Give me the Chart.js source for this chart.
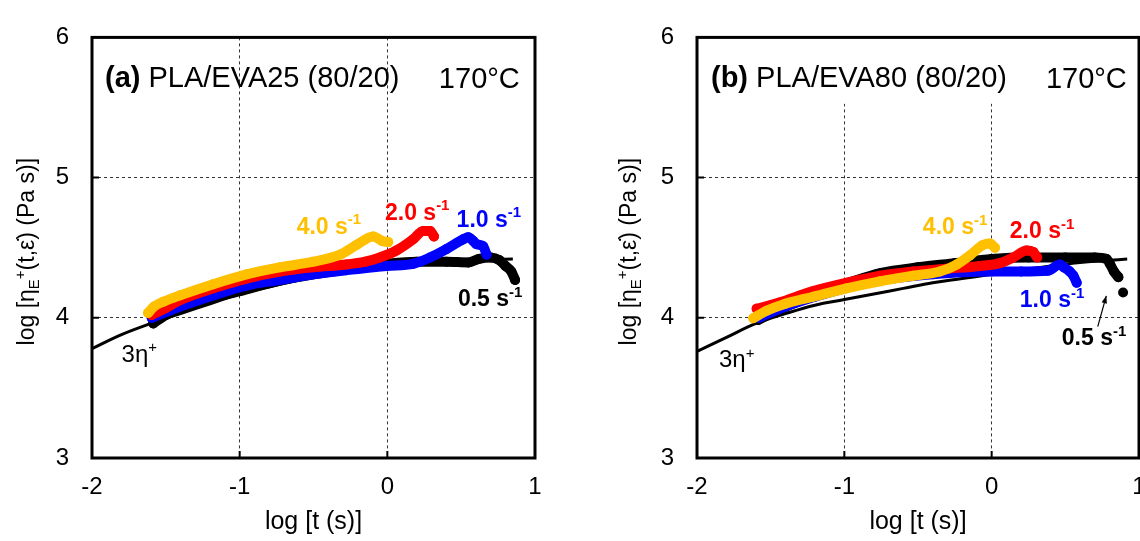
<!DOCTYPE html>
<html>
<head>
<meta charset="utf-8">
<script src="https://cdn.jsdelivr.net/npm/chart.js@4.4.0/dist/chart.umd.min.js"></script>
<style>
  html, body { margin: 0; padding: 0; background: #fff; }
  body { width: 1140px; height: 541px; overflow: hidden; position: relative; }
  canvas { position: absolute; top: 0; }
  #panelA { left: 0; }
  #panelB { left: 570px; }
</style>
</head>
<body>
<canvas id="panelA" width="570" height="541"></canvas>
<canvas id="panelB" width="620" height="541"></canvas>
<script>
const FONT = '"Liberation Sans", Arial, sans-serif';

const ORANGE = '#FFC000';
const RED = '#FF0000';
const BLUE = '#0000FF';
const BLACK = '#000000';

// axis ticks: log t and log eta
const xTicks = [-2, -1, 0, 1];
const yTicks = [3, 4, 5, 6];

// (a) PLA/EVA25 (80/20) -- [log t, log eta_E+]
const a3eta = [[-2, 3.78], [-1.8, 3.88], [-1.6, 3.96], [-1.4, 4.03], [-1.2, 4.10], [-1.0, 4.17],
  [-0.8, 4.22], [-0.6, 4.27], [-0.4, 4.31], [-0.2, 4.345], [0, 4.37], [0.2, 4.39], [0.4, 4.40],
  [0.6, 4.41], [0.85, 4.42]];
const a05 = [[-1.585, 3.96], [-1.5, 4.02], [-1.3, 4.11], [-1.0, 4.19], [-0.75, 4.26], [-0.5, 4.31],
  [-0.25, 4.35], [0, 4.385], [0.2, 4.40], [0.4, 4.40], [0.55, 4.395], [0.62, 4.42], [0.7, 4.43],
  [0.76, 4.41], [0.8, 4.37], [0.84, 4.33], [0.865, 4.27]];
const a10 = [[-1.596, 4.0], [-1.5, 4.04], [-1.404, 4.08], [-1.179, 4.16], [-0.953, 4.23], [-0.727, 4.27],
  [-0.502, 4.31], [-0.276, 4.34], [-0.005, 4.37], [0.175, 4.385], [0.289, 4.43], [0.40, 4.49],
  [0.514, 4.56], [0.548, 4.575], [0.58, 4.55], [0.604, 4.525], [0.649, 4.51], [0.672, 4.45]];
const a20 = [[-1.596, 4.02], [-1.5, 4.07], [-1.404, 4.125], [-1.179, 4.21], [-0.953, 4.28], [-0.727, 4.33],
  [-0.502, 4.36], [-0.276, 4.38], [-0.15, 4.40], [-0.051, 4.43], [0.062, 4.48], [0.175, 4.56],
  [0.243, 4.62], [0.289, 4.62], [0.316, 4.58]];
const a40 = [[-1.62, 4.035], [-1.58, 4.08], [-1.517, 4.115], [-1.404, 4.16], [-1.179, 4.24], [-0.953, 4.31],
  [-0.727, 4.36], [-0.502, 4.40], [-0.321, 4.45], [-0.208, 4.52], [-0.096, 4.58], [-0.039, 4.55],
  [0.006, 4.54]];

// (b) PLA/EVA80 (80/20)
const b3eta = [[-2, 3.76], [-1.8, 3.86], [-1.6, 3.96], [-1.4, 4.03], [-1.2, 4.09], [-1.0, 4.13],
  [-0.8, 4.17], [-0.6, 4.21], [-0.4, 4.25], [-0.2, 4.28], [0, 4.31], [0.2, 4.34], [0.4, 4.37],
  [0.6, 4.395], [0.8, 4.41], [0.92, 4.42]];
const b05 = [[-1.584, 3.985], [-1.5, 4.03], [-1.35, 4.10], [-1.2, 4.17], [-1.0, 4.24], [-0.75, 4.32],
  [-0.5, 4.36], [-0.25, 4.39], [0, 4.42], [0.25, 4.43], [0.5, 4.43], [0.7, 4.43], [0.78, 4.42],
  [0.80, 4.39], [0.83, 4.33], [0.86, 4.29], [0.875, null], [0.892, 4.18]];
const b10 = [[-1.58, 4.0], [-1.4, 4.08], [-1.2, 4.15], [-1.0, 4.21], [-0.8, 4.26], [-0.6, 4.29],
  [-0.4, 4.31], [-0.2, 4.325], [0, 4.33], [0.2, 4.33], [0.38, 4.335], [0.463, 4.38], [0.49, 4.36],
  [0.53, 4.33], [0.555, 4.30], [0.577, 4.25]];
const b20 = [[-1.595, 4.065], [-1.5, 4.09], [-1.437, 4.11], [-1.211, 4.19], [-0.984, 4.25], [-0.758, 4.30],
  [-0.532, 4.33], [-0.306, 4.35], [-0.08, 4.37], [0.056, 4.39], [0.146, 4.43], [0.237, 4.48],
  [0.282, 4.47], [0.309, 4.43]];
const b40 = [[-1.618, 3.997], [-1.527, 4.05], [-1.4, 4.10], [-1.211, 4.15], [-0.984, 4.21], [-0.758, 4.26],
  [-0.532, 4.30], [-0.351, 4.33], [-0.238, 4.38], [-0.148, 4.445], [-0.058, 4.52], [-0.012, 4.53],
  [0.022, 4.50]];

const yTitleParts = [['log [\u03b7', ''], ['E', 'sub'], ['+', 'sup'], ['(t,\u03b5\u0307) (Pa s)]', '']];

// text helpers: parts are [text, style], style '' | 'b' | 'sup' | 'sub' | 'bsup'
function partFont(style, size) {
  const small = style.includes('sup') || style.includes('sub');
  const fs = small ? Math.round(size * 0.64) : size;
  return (style.startsWith('b') ? 'bold ' : '') + fs + 'px ' + FONT;
}
function partShift(style, size) {
  if (style.includes('sup')) return -size * 0.4;
  if (style.includes('sub')) return size * 0.22;
  return 0;
}
function partsWidth(ctx, parts, size) {
  let w = 0;
  for (const [t, st] of parts) {
    ctx.font = partFont(st, size);
    w += ctx.measureText(t).width;
  }
  return w;
}
function drawParts(ctx, x, y, parts, size) {
  let cx = x;
  for (const [t, st] of parts) {
    ctx.font = partFont(st, size);
    ctx.fillText(t, cx, y + partShift(st, size));
    cx += ctx.measureText(t).width;
  }
}

// frame, inward ticks, annotations and the rotated y title
const panelDecor = {
  id: 'panelDecor',
  beforeDatasetsDraw(chart, args, opts) {
    if (opts.clearTop == null) return;
    const { ctx, chartArea: ca, scales: { y } } = chart;
    ctx.save();
    ctx.fillStyle = '#fff';
    ctx.fillRect(ca.left, ca.top, ca.right - ca.left, y.getPixelForValue(opts.clearTop) - ca.top);
    ctx.restore();
  },
  afterDraw(chart, args, opts) {
    const { ctx, chartArea: ca, scales: { x, y } } = chart;
    ctx.save();
    ctx.strokeStyle = '#000';
    ctx.lineWidth = 3;
    ctx.strokeRect(ca.left, ca.top, ca.right - ca.left, ca.bottom - ca.top);

    ctx.lineWidth = 2;
    ctx.beginPath();
    xTicks.slice(1, -1).forEach(v => {
      const px = x.getPixelForValue(v);
      ctx.moveTo(px, ca.bottom);
      ctx.lineTo(px, ca.bottom - 7);
    });
    yTicks.slice(1, -1).forEach(v => {
      const py = y.getPixelForValue(v);
      ctx.moveTo(ca.left, py);
      ctx.lineTo(ca.left + 7, py);
    });
    ctx.stroke();

    ctx.textAlign = 'left';
    ctx.textBaseline = 'alphabetic';
    for (const n of opts.notes) {
      ctx.fillStyle = n.color;
      drawParts(ctx, x.getPixelForValue(n.x), y.getPixelForValue(n.y) + n.size * 0.36, n.parts, n.size);
    }

    if (opts.arrow) {
      const a = opts.arrow;
      const x0 = x.getPixelForValue(a[0]), y0 = y.getPixelForValue(a[1]);
      const x1 = x.getPixelForValue(a[2]), y1 = y.getPixelForValue(a[3]);
      const ang = Math.atan2(y1 - y0, x1 - x0);
      ctx.strokeStyle = '#000';
      ctx.fillStyle = '#000';
      ctx.lineWidth = 1.2;
      ctx.beginPath();
      ctx.moveTo(x0, y0);
      ctx.lineTo(x1, y1);
      ctx.stroke();
      ctx.beginPath();
      ctx.moveTo(x1, y1);
      ctx.lineTo(x1 - 8 * Math.cos(ang - 0.35), y1 - 8 * Math.sin(ang - 0.35));
      ctx.lineTo(x1 - 8 * Math.cos(ang + 0.35), y1 - 8 * Math.sin(ang + 0.35));
      ctx.closePath();
      ctx.fill();
    }

    ctx.fillStyle = '#000';
    ctx.translate(opts.yTitleX, (ca.top + ca.bottom) / 2 + 4);
    ctx.rotate(-Math.PI / 2);
    const w = partsWidth(ctx, yTitleParts, 23);
    drawParts(ctx, -w / 2, 0, yTitleParts, 23);
    ctx.restore();
  }
};

function rateSet(points, color) {
  return {
    data: points.map(p => ({ x: p[0], y: p[1] })),
    borderColor: color,
    backgroundColor: color,
    borderWidth: 10,
    pointRadius: 5,
    pointHoverRadius: 5,
    pointBorderWidth: 0,
    borderCapStyle: 'round',
    borderJoinStyle: 'round',
    cubicInterpolationMode: 'monotone',
    spanGaps: false
  };
}

function envelopeSet(points) {
  return {
    data: points.map(p => ({ x: p[0], y: p[1] })),
    borderColor: BLACK,
    borderWidth: 3,
    pointRadius: 0,
    tension: 0.4
  };
}

function edgeColor(ctx, ticks) {
  const v = ctx.tick ? ctx.tick.value : null;
  return (v === ticks[0] || v === ticks[ticks.length - 1]) ? 'rgba(0,0,0,0)' : '#333';
}

function makePanel(id, sets, yAxisWidth, pad, decor) {
  return new Chart(document.getElementById(id), {
    type: 'line',
    data: { datasets: sets },
    options: {
      responsive: false,
      animation: false,
      layout: { padding: pad },
      plugins: { legend: { display: false }, tooltip: { enabled: false }, panelDecor: decor },
      scales: {
        x: {
          type: 'linear',
          min: xTicks[0],
          max: xTicks[xTicks.length - 1],
          afterFit: s => { s.height = 83; },
          ticks: { stepSize: 1, padding: 15, color: '#000', font: { family: FONT, size: 24 } },
          grid: { drawTicks: false, lineWidth: 1, color: ctx => edgeColor(ctx, xTicks) },
          border: { display: false, dash: [3, 3] },
          title: { display: true, text: 'log [t (s)]', color: '#000', padding: { top: 2, bottom: 4 },
            font: { family: FONT, size: 25 } }
        },
        y: {
          type: 'linear',
          min: yTicks[0],
          max: yTicks[yTicks.length - 1],
          afterFit: s => { s.width = yAxisWidth; },
          ticks: { stepSize: 1, padding: 23, color: '#000', font: { family: FONT, size: 24 } },
          grid: { drawTicks: false, lineWidth: 1, color: ctx => edgeColor(ctx, yTicks) },
          border: { display: false, dash: [3, 3] }
        }
      }
    },
    plugins: [panelDecor]
  });
}

makePanel('panelA',
  [rateSet(a40, ORANGE), rateSet(a20, RED), rateSet(a10, BLUE), rateSet(a05, BLACK), envelopeSet(a3eta)],
  92, { left: 0, right: 35, top: 24, bottom: 0 },
  {
    yTitleX: 34,
    notes: [
      { x: -1.912, y: 5.72, size: 29, color: BLACK, parts: [['(a)', 'b'], [' PLA/EVA25 (80/20)', '']] },
      { x: 0.349, y: 5.71, size: 29, color: BLACK, parts: [['170\u00b0C', '']] },
      { x: -0.614, y: 4.66, size: 23, color: ORANGE, parts: [['4.0 s', 'b'], ['-1', 'bsup']] },
      { x: -0.016, y: 4.76, size: 23, color: RED, parts: [['2.0 s', 'b'], ['-1', 'bsup']] },
      { x: 0.469, y: 4.71, size: 23, color: BLUE, parts: [['1.0 s', 'b'], ['-1', 'bsup']] },
      { x: 0.478, y: 4.14, size: 23, color: BLACK, parts: [['0.5 s', 'b'], ['-1', 'bsup']] },
      { x: -1.80, y: 3.746, size: 24, color: BLACK, parts: [['3\u03b7', ''], ['+', 'sup']] }
    ]
  });

makePanel('panelB',
  [rateSet(b40, ORANGE), rateSet(b20, RED), rateSet(b10, BLUE), rateSet(b05, BLACK), envelopeSet(b3eta)],
  127, { left: 0, right: 51, top: 23, bottom: 0 },
  {
    yTitleX: 66,
    clearTop: 5.527,
    arrow: [0.720, 3.937, 0.778, 4.157],
    notes: [
      { x: -1.905, y: 5.718, size: 29, color: BLACK, parts: [['(b)', 'b'], [' PLA/EVA80 (80/20)', '']] },
      { x: 0.368, y: 5.71, size: 29, color: BLACK, parts: [['170\u00b0C', '']] },
      { x: -0.467, y: 4.654, size: 23, color: ORANGE, parts: [['4.0 s', 'b'], ['-1', 'bsup']] },
      { x: 0.123, y: 4.627, size: 23, color: RED, parts: [['2.0 s', 'b'], ['-1', 'bsup']] },
      { x: 0.191, y: 4.137, size: 23, color: BLUE, parts: [['1.0 s', 'b'], ['-1', 'bsup']] },
      { x: 0.476, y: 3.867, size: 23, color: BLACK, parts: [['0.5 s', 'b'], ['-1', 'bsup']] },
      { x: -1.851, y: 3.709, size: 24, color: BLACK, parts: [['3\u03b7', ''], ['+', 'sup']] }
    ]
  });
</script>
</body>
</html>
